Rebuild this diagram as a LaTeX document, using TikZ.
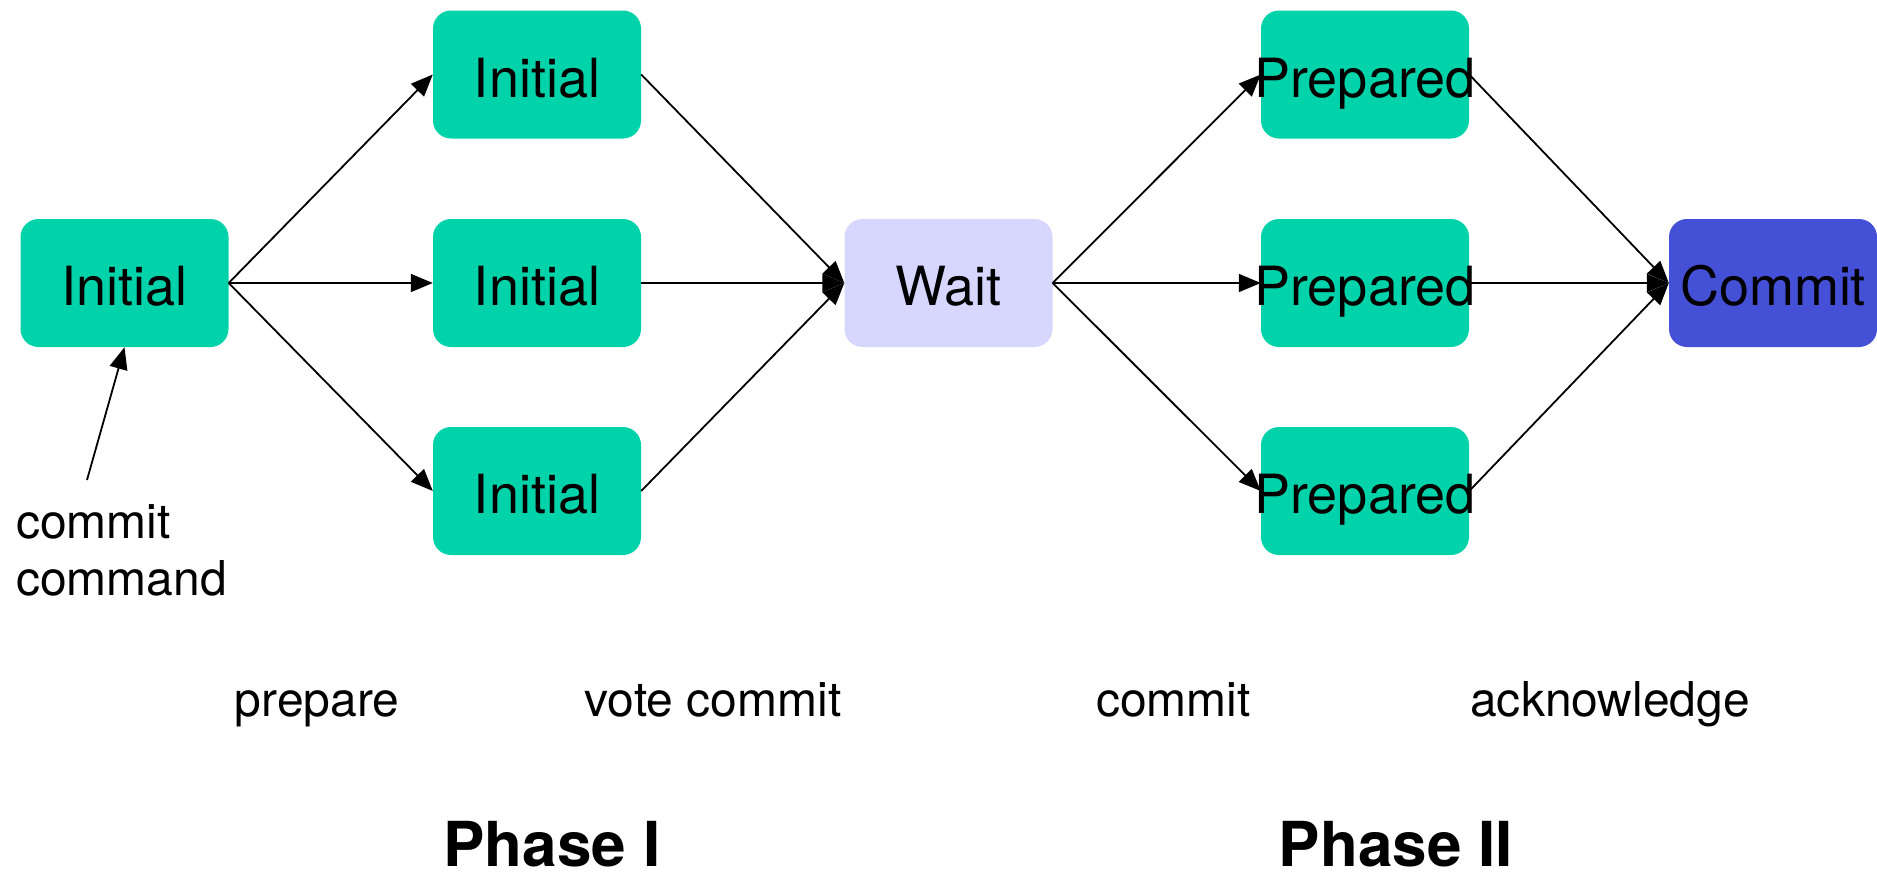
\documentclass[tikz,border=0pt]{standalone}
\usepackage{fontspec}
\setmainfont{TeX Gyre Heros}
\usetikzlibrary{arrows.meta}

\definecolor{stategreen}{RGB}{0,210,170}
\definecolor{waitlav}{RGB}{214,214,255}
\definecolor{commitblue}{RGB}{68,80,214}

\begin{document}
\begin{tikzpicture}[x=1pt,y=-1pt,
  statebox/.style={rounded corners=18pt, minimum width=208pt, minimum height=128pt,
    inner sep=0pt, text height=45pt, text depth=0pt,
    font=\fontsize{54}{60}\selectfont},
  greenbox/.style={statebox, fill=stategreen},
  link/.style={line width=1.8pt, -{Triangle[length=22pt,width=18pt]}},
  msg/.style={font=\fontsize{48}{57}\selectfont, anchor=base, inner sep=0pt},
  phase/.style={font=\fontsize{62}{66}\selectfont\bfseries, anchor=base, inner sep=0pt}]

  \useasboundingbox (0,0) rectangle (1877,873);

  % coordinator start state
  \node[greenbox] (start) at (124.5,283) {\makebox[0pt]{Initial}};

  % participants, phase I
  \node[greenbox] (i1) at (537,74.5) {\makebox[0pt]{Initial}};
  \node[greenbox] (i2) at (537,283)  {\makebox[0pt]{Initial}};
  \node[greenbox] (i3) at (537,491)  {\makebox[0pt]{Initial}};

  % coordinator waiting
  \node[statebox, fill=waitlav] (wait) at (948.5,283) {\makebox[0pt]{Wait}};

  % participants, phase II
  \node[greenbox] (p1) at (1365,74.5) {\makebox[0pt]{Prepared}};
  \node[greenbox] (p2) at (1365,283)  {\makebox[0pt]{Prepared}};
  \node[greenbox] (p3) at (1365,491)  {\makebox[0pt]{Prepared}};

  % final state
  \node[statebox, fill=commitblue] (commit) at (1773,283) {\makebox[0pt]{Commit}};

  % incoming command (base anchor sits on the last line)
  \node[font=\fontsize{48}{57}\selectfont, align=left, anchor=base west,
        inner sep=0pt] (cmd) at (16,595) {commit\\command};
  \coordinate (cmdtail) at (87,480);
  \draw[link] (cmdtail) -- (start.south);

  % prepare
  \foreach \n in {i1,i2,i3} \draw[link] (start.east) -- (\n.west);
  % vote commit
  \foreach \n in {i1,i2,i3} \draw[link] (\n.east) -- (wait.west);
  % commit
  \foreach \n in {p1,p2,p3} \draw[link] (wait.east) -- (\n.west);
  % acknowledge
  \foreach \n in {p1,p2,p3} \draw[link] (\n.east) -- (commit.west);

  % message labels
  \node[msg] (lprep) at (317,716)  {prepare};
  \node[msg] (lvote) at (713,716)  {vote commit};
  \node[msg] (lcomm) at (1173.5,716) {commit};
  \node[msg] (lack)  at (1610,716) {acknowledge};

  % phase titles
  \node[phase] (ph1) at (552,866)  {Phase I};
  \node[phase] (ph2) at (1396,866) {Phase II};
\end{tikzpicture}
\end{document}
